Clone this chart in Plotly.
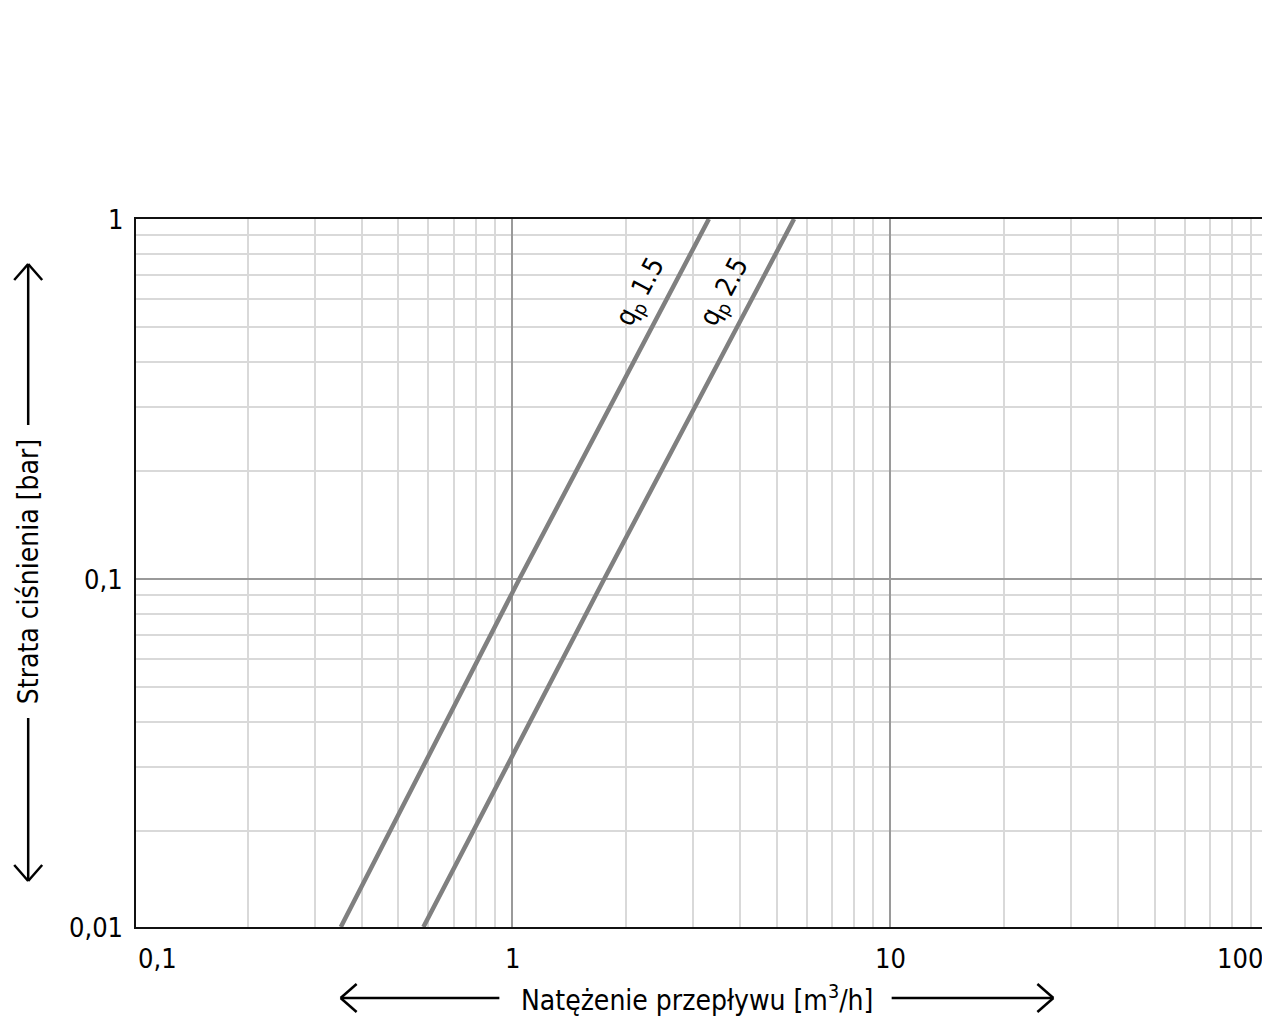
import math
import plotly.graph_objects as go

# odczyty z wykresu: natężenie przepływu [m3/h] i strata ciśnienia [bar]
q15_przeplyw = [0.352, 1.044, 3.31]
q15_strata = [0.0108, 0.1, 1.0]

q25_przeplyw = [0.582, 1.75, 5.56]
q25_strata = [0.0108, 0.1, 1.0]

etykiety_x = ["0,1", "1", "10", "100"]
wartosci_x = [0.1, 1, 10, 98]
etykiety_y = ["1", "0,1", "0,01"]
wartosci_y = [1, 0.1, 0.0108]

FONT = "DejaVu Sans Condensed"
OFF = 8  # marginesy strony (body)
W, H = 1262, 1014
L, R, T, B = 128, 2, 211, 95
ZAKRES_X = [-0.995, 1.993]
ZAKRES_Y = [math.log10(0.0108), 0]
SZARY = "#808080"


def px(x, y):
    # piksele strony -> współrzędne paper
    return (x - OFF - L) / (W - L - R), (H - B - (y - OFF)) / (H - T - B)


fig = go.Figure()
fig.add_trace(go.Scatter(x=q15_przeplyw, y=q15_strata, mode="lines",
                         line=dict(color=SZARY, width=4.5), showlegend=False))
fig.add_trace(go.Scatter(x=q25_przeplyw, y=q25_strata, mode="lines",
                         line=dict(color=SZARY, width=4.5), showlegend=False))

siatka = dict(type="log", showgrid=True, gridcolor="#9a9a9a", gridwidth=1.5,
              dtick=1, showticklabels=False, ticks="", zeroline=False,
              showline=True, mirror=True, linecolor="#111", linewidth=2,
              minor=dict(dtick="D1", showgrid=True, gridcolor="#d9d9d9",
                         gridwidth=1.8, ticks=""))
fig.update_xaxes(range=ZAKRES_X, **siatka)
fig.update_yaxes(range=ZAKRES_Y, **siatka)

ann = []
# podpisy osi X
for i, (t, v) in enumerate(zip(etykiety_x, wartosci_x)):
    anchor = "left" if i == 0 else ("right" if i == len(etykiety_x) - 1 else "center")
    xp = (math.log10(v) - ZAKRES_X[0]) / (ZAKRES_X[1] - ZAKRES_X[0])
    ann.append(dict(x=max(xp, 0), xref="paper", y=0, yref="paper", text=t,
                    showarrow=False, xanchor=anchor, yanchor="top", yshift=-14,
                    font=dict(size=27)))
# podpisy osi Y
for t, v in zip(etykiety_y, wartosci_y):
    ann.append(dict(x=0, xref="paper", y=math.log10(v), yref="y", text=t,
                    showarrow=False, xanchor="right", yanchor="middle",
                    xshift=-11, font=dict(size=27)))

# etykiety krzywych
ann.append(dict(x=math.log10(2.2), y=math.log10(0.627), text="q<sub>p</sub> 1.5",
                showarrow=False, textangle=-62, xanchor="center",
                yanchor="middle", font=dict(size=27)))
ann.append(dict(x=math.log10(3.67), y=math.log10(0.627), text="q<sub>p</sub> 2.5",
                showarrow=False, textangle=-62, xanchor="center",
                yanchor="middle", font=dict(size=27)))

# tytuły osi
tx, ty = px(698, 998)
ann.append(dict(x=tx, y=ty, xref="paper", yref="paper", showarrow=False,
                xanchor="center", yanchor="middle",
                text="Natężenie przepływu [m<sup>3</sup>/h]", font=dict(size=28)))
tx, ty = px(28, 572)
ann.append(dict(x=tx, y=ty, xref="paper", yref="paper", showarrow=False,
                xanchor="center", yanchor="middle",
                text="Strata ciśnienia [bar]", textangle=-90, font=dict(size=28)))

# strzałki przy tytułach
ksztalty = []


def linia(x0, y0, x1, y1):
    a, b = px(x0, y0)
    c, d = px(x1, y1)
    ksztalty.append(dict(type="line", xref="paper", yref="paper", x0=a, y0=b,
                         x1=c, y1=d, line=dict(color="black", width=2.5)))


# oś Y
linia(28, 264, 28, 425)
linia(28, 264, 14, 280)
linia(28, 264, 42, 280)
linia(28, 718, 28, 881)
linia(28, 881, 14, 865)
linia(28, 881, 42, 865)
# oś X
linia(341, 998, 500, 998)
linia(341, 998, 357, 984)
linia(341, 998, 357, 1012)
linia(893, 998, 1055, 998)
linia(1055, 998, 1039, 984)
linia(1055, 998, 1039, 1012)

fig.update_layout(width=W, height=H, margin=dict(l=L, r=R, t=T, b=B),
                  plot_bgcolor="white", paper_bgcolor="white",
                  font=dict(family=FONT, color="black"),
                  annotations=ann, shapes=ksztalty, showlegend=False)

fig.write_html("out.html")
